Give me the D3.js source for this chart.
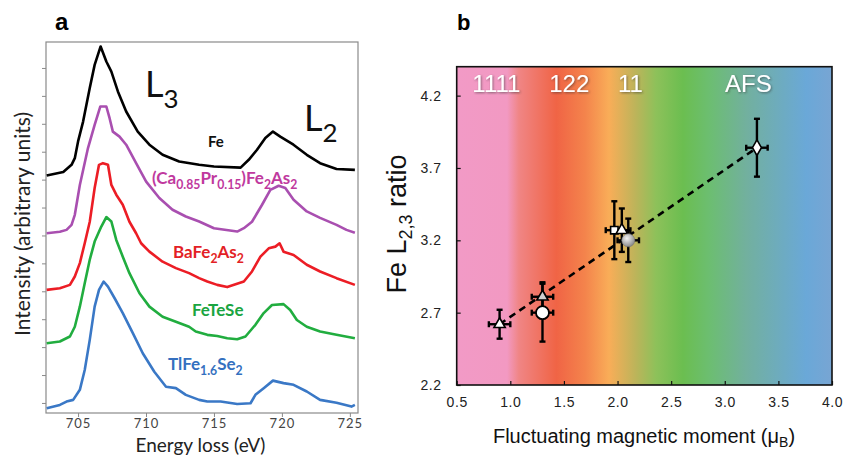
<!DOCTYPE html>
<html>
<head>
<meta charset="utf-8">
<script src="https://cdn.jsdelivr.net/npm/d3@7"></script>
<style>
body { margin: 0; background: #fff; }
</style>
</head>
<body>
<script>
// ---- panel a : Fe L2,3 edges (energy in eV, intensity in a.u. incl. vertical offset)
const feEnergy = [702.69,703.91,704.52,704.76,705.00,705.37,705.86,706.22,706.66,707.08,707.45,707.93,708.54,709.39,710.25,711.22,712.44,713.91,715.00,716.96,717.56,718.17,718.78,719.34,719.88,720.85,721.83,722.81,724.02,725.37]
const feInt    = [8.15,8.27,8.53,8.77,9.37,10.08,11.28,12.11,12.77,12.23,11.87,11.16,10.44,9.72,9.25,8.89,8.65,8.53,8.47,8.43,8.71,9.07,9.49,9.72,9.54,9.25,8.89,8.59,8.38,8.35]

const caprEnergy = [702.69,703.66,704.15,704.52,704.76,705.13,705.73,706.22,706.64,707.08,707.32,707.56,708.05,708.54,709.27,710.01,710.98,711.95,712.93,713.91,715.00,716.71,717.20,717.80,718.54,719.15,719.76,720.25,720.86,721.83,722.81,724.02,724.75,725.37]
const caprInt    = [6.08,6.13,6.20,6.38,6.74,7.81,9.13,9.96,10.62,10.62,10.20,9.72,9.54,9.25,8.59,7.93,7.34,6.92,6.68,6.50,6.26,6.14,6.26,6.49,7.10,7.63,7.78,7.70,7.28,6.86,6.63,6.38,6.20,6.10]

const bfaEnergy = [702.69,703.66,704.40,704.76,705.13,705.49,705.86,706.22,706.54,706.83,707.20,707.45,707.81,708.29,708.78,709.27,709.64,710.25,711.22,712.20,713.17,713.91,714.51,715.24,715.98,717.20,717.80,718.42,719.03,719.52,719.83,720.12,720.86,721.83,722.81,724.02,725.37]
const bfaInt    = [4.05,4.11,4.23,4.53,5.01,5.72,6.49,7.70,8.53,8.59,8.53,7.81,7.46,7.10,6.49,6.08,5.72,5.42,5.06,4.83,4.65,4.47,4.35,4.23,4.15,4.35,4.71,5.24,5.54,5.60,5.72,5.42,5.30,4.95,4.71,4.47,4.23]

const ftsEnergy = [702.69,703.66,704.40,704.76,705.13,705.49,705.86,706.22,706.71,707.08,707.45,707.81,708.29,708.78,709.52,710.25,711.22,712.20,713.17,713.66,714.51,715.24,715.98,716.71,717.32,718.05,718.66,719.27,720.12,720.61,721.10,721.83,722.81,724.02,725.37]
const ftsInt    = [2.14,2.20,2.38,2.73,3.45,4.29,5.13,5.78,6.32,6.66,6.50,5.84,5.24,4.65,3.93,3.45,3.09,2.91,2.73,2.56,2.44,2.40,2.32,2.28,2.38,2.80,3.22,3.51,3.54,3.33,2.97,2.73,2.56,2.44,2.32]

const tlfEnergy = [702.69,703.66,704.15,704.64,705.13,705.49,705.86,706.22,706.54,706.88,707.20,707.69,708.29,709.03,709.76,710.61,711.47,712.20,712.93,713.91,714.51,715.49,716.71,717.69,718.05,718.66,719.34,720.12,720.86,721.83,722.81,724.02,725.12,725.37]
const tlfInt    = [-0.19,-0.07,0.05,0.11,0.47,1.18,2.26,3.45,4.05,4.35,4.17,3.75,3.22,2.50,1.78,1.12,0.58,0.53,0.29,0.11,0.05,0.05,-0.04,-0.01,0.29,0.53,0.80,0.71,0.65,0.41,0.11,0.01,-0.13,-0.07]

const energyTicks = [705, 710, 715, 720, 725]
const intensityTicks = [0,1,2,3,4,5,6,7,8,9,10,11,12]

// ---- panel b : L2,3 ratio vs fluctuating moment
const moment      = [0.9, 1.3, 1.3, 1.97, 2.04, 2.1, 3.3]
const momentErr   = [0.1, 0.1, 0.1, 0.08, 0.08, 0.1, 0.1]
const ratio       = [2.62, 2.81, 2.70, 3.27, 3.27, 3.20, 3.84]
const ratioErr    = [0.1, 0.1, 0.2, 0.2, 0.15, 0.15, 0.2]
const markerKind  = ["triangle", "triangleGray", "circle", "square", "triangle", "sphere", "diamond"]
const fitMoment   = [0.9, 3.3]
const fitRatio    = [2.62, 3.84]
const familyNames = ["1111", "122", "11", "AFS"]
const familyAt    = [0.87, 1.55, 2.12, 3.22]
const momentTicks = [0.5, 1.0, 1.5, 2.0, 2.5, 3.0, 3.5, 4.0]
const ratioTicks  = [2.2, 2.7, 3.2, 3.7, 4.2]

const W = 844, H = 455
const svg = d3.select("body").append("svg")
    .attr("width", W)
    .attr("height", H)

const defs = svg.append("defs")

// ================= panel a =================
const xa = d3.scaleLinear().domain([702.64, 725.6]).range([46, 358])
const ya = d3.scaleLinear().domain([-0.36, 12.93]).range([413, 42])
const fontA = "Lato, 'Open Sans', sans-serif"

svg.append("text")
    .attr("x", 55).attr("y", 30)
    .attr("font-family", "'Liberation Sans', Arial, sans-serif")
    .attr("font-weight", "bold")
    .attr("font-size", 24)
    .text("a")

svg.append("rect")
    .attr("x", xa.range()[0]).attr("y", ya.range()[1])
    .attr("width", xa.range()[1] - xa.range()[0])
    .attr("height", ya.range()[0] - ya.range()[1])
    .attr("fill", "none")
    .attr("stroke", "#8a8a8a")
    .attr("stroke-width", 1.2)

const axA = svg.append("g")
    .attr("transform", "translate(0," + ya.range()[0] + ")")
    .call(d3.axisBottom(xa).tickValues(energyTicks).tickSize(4).tickPadding(2))
axA.select(".domain").remove()
axA.selectAll("line").attr("stroke", "#8a8a8a")
axA.selectAll("text")
    .attr("font-family", fontA).attr("font-size", 13)
    .attr("fill", "#444").attr("letter-spacing", 1)

const ayA = svg.append("g")
    .attr("transform", "translate(" + xa.range()[0] + ",0)")
    .call(d3.axisLeft(ya).tickValues(intensityTicks).tickSize(4).tickFormat(""))
ayA.select(".domain").remove()
ayA.selectAll("line").attr("stroke", "#8a8a8a")

svg.append("text")
    .attr("x", xa(714.0)).attr("y", 452)
    .attr("text-anchor", "middle")
    .attr("font-family", fontA).attr("font-size", 19)
    .attr("fill", "#222")
    .text("Energy loss (eV)")

svg.append("text")
    .attr("transform", "translate(30,224) rotate(-90)")
    .attr("text-anchor", "middle")
    .attr("font-family", fontA).attr("font-size", 21)
    .attr("fill", "#222")
    .text("Intensity (arbitrary units)")

const lineA = d3.line()
    .x(d => xa(d[0]))
    .y(d => ya(d[1]))

const spectra = [
    { e: tlfEnergy, v: tlfInt, c: "#3a78c6" },
    { e: ftsEnergy, v: ftsInt, c: "#21ad3f" },
    { e: bfaEnergy, v: bfaInt, c: "#ec1d25" },
    { e: caprEnergy, v: caprInt, c: "#a94fb0" },
    { e: feEnergy, v: feInt, c: "#000000" }
]
spectra.forEach(s => {
    svg.append("path")
        .datum(d3.zip(s.e, s.v))
        .attr("d", lineA)
        .attr("fill", "none")
        .attr("stroke", s.c)
        .attr("stroke-width", 2.6)
        .attr("stroke-linejoin", "round")
})

// rich labels with subscripts
function richText(x, y, parts, size, color, weight) {
    const t = svg.append("text")
        .attr("x", x).attr("y", y)
        .attr("font-family", fontA)
        .attr("font-size", size)
        .attr("font-weight", weight)
        .attr("fill", color)
    let down = 0
    parts.forEach(p => {
        const sub = Array.isArray(p)
        const shift = sub ? size * 0.3 : 0
        t.append("tspan")
            .attr("dy", shift - down)
            .attr("font-size", sub ? size * 0.72 : size)
            .text(sub ? p[0] : p)
        down = shift
    })
    return t
}

richText(145, 97, ["L", ["3"]], 36, "#111", 400)
richText(304, 131, ["L", ["2"]], 36, "#111", 400)
richText(208, 147, ["Fe"], 15, "#111", "bold")
richText(152, 184, ["(Ca", ["0.85"], "Pr", ["0.15"], ")Fe", ["2"], "As", ["2"]], 17, "#c0399e", "bold")
richText(173, 258, ["BaFe", ["2"], "As", ["2"]], 17, "#e31f26", "bold")
richText(192, 316, ["FeTeSe"], 17, "#1aa541", "bold")
richText(168, 370, ["TlFe", ["1.6"], "Se", ["2"]], 17, "#3470c0", "bold")

// ================= panel b =================
const xb = d3.scaleLinear().domain([0.5, 4.0]).range([456.7, 832])
const yb = d3.scaleLinear().domain([2.2, 4.4]).range([385, 66.7])
const fontB = "'Liberation Sans', Arial, sans-serif"

svg.append("text")
    .attr("x", 457).attr("y", 30)
    .attr("font-family", fontB)
    .attr("font-weight", "bold")
    .attr("font-size", 22)
    .text("b")

// background colour band along the moment axis
const bandStops = [
    [0.5, "#f29ac6"], [0.97, "#f299c2"], [1.08, "#f08585"], [1.43, "#f06445"],
    [1.7, "#f4844c"], [1.92, "#f9ad58"], [2.17, "#bcb45a"], [2.36, "#8dc15a"],
    [2.61, "#6bbe50"], [2.85, "#6cbe70"], [3.2, "#72b09e"], [3.76, "#6aa8d8"],
    [4.0, "#78a5d3"]
]
const grad = defs.append("linearGradient")
    .attr("id", "band")
    .attr("gradientUnits", "userSpaceOnUse")
    .attr("x1", xb(0.5)).attr("x2", xb(4.0))
    .attr("y1", 0).attr("y2", 0)
grad.selectAll("stop").data(bandStops).join("stop")
    .attr("offset", d => (xb(d[0]) - xb(0.5)) / (xb(4.0) - xb(0.5)))
    .attr("stop-color", d => d[1])

const sphere = defs.append("radialGradient")
    .attr("id", "sphere").attr("cx", "40%").attr("cy", "35%").attr("r", "65%")
sphere.append("stop").attr("offset", 0).attr("stop-color", "#f4f4f4")
sphere.append("stop").attr("offset", 1).attr("stop-color", "#8a8a8a")

const shadow = defs.append("filter").attr("id", "shadow")
    .attr("x", "-20%").attr("y", "-20%").attr("width", "140%").attr("height", "140%")
shadow.append("feDropShadow")
    .attr("dx", 1).attr("dy", 1).attr("stdDeviation", 0.8)
    .attr("flood-color", "#333").attr("flood-opacity", 0.55)

svg.append("rect")
    .attr("x", xb(0.5)).attr("y", yb(4.4))
    .attr("width", xb(4.0) - xb(0.5))
    .attr("height", yb(2.2) - yb(4.4))
    .attr("fill", "url(#band)")

const axB = svg.append("g")
    .attr("transform", "translate(0," + yb(2.2) + ")")
    .call(d3.axisBottom(xb).tickValues(momentTicks).tickSize(-4).tickPadding(12).tickFormat(d3.format(".1f")))
axB.select(".domain").remove()
axB.selectAll("line").attr("stroke", "#111").attr("stroke-width", 1.2)
axB.selectAll("text")
    .attr("font-family", fontB).attr("font-size", 14)
    .attr("fill", "#222").attr("letter-spacing", 0.6)

const ayB = svg.append("g")
    .attr("transform", "translate(" + xb(0.5) + ",0)")
    .call(d3.axisLeft(yb).tickValues(ratioTicks).tickSize(-4).tickPadding(15).tickFormat(d3.format(".1f")))
ayB.select(".domain").remove()
ayB.selectAll("line").attr("stroke", "#111").attr("stroke-width", 1.2)
ayB.selectAll("text")
    .attr("font-family", fontB).attr("font-size", 14)
    .attr("fill", "#222").attr("letter-spacing", 0.6)

svg.append("rect")
    .attr("x", xb(0.5)).attr("y", yb(4.4))
    .attr("width", xb(4.0) - xb(0.5))
    .attr("height", yb(2.2) - yb(4.4))
    .attr("fill", "none")
    .attr("stroke", "#111")
    .attr("stroke-width", 1.6)

// family labels across the top
svg.selectAll(".family").data(familyNames).join("text")
    .attr("class", "family")
    .attr("x", (d, i) => xb(familyAt[i]))
    .attr("y", 92)
    .attr("text-anchor", "middle")
    .attr("font-family", fontB)
    .attr("font-size", 24)
    .attr("fill", "#fff")
    .attr("filter", "url(#shadow)")
    .text(d => d)

// dashed fit
svg.append("path")
    .datum(d3.zip(fitMoment, fitRatio))
    .attr("d", d3.line().x(d => xb(d[0])).y(d => yb(d[1])))
    .attr("fill", "none")
    .attr("stroke", "#000")
    .attr("stroke-width", 2.6)
    .attr("stroke-dasharray", "7,5")

// error bars
const pts = moment.map((m, i) => ({ m: m, r: ratio[i], dm: momentErr[i], dr: ratioErr[i], k: markerKind[i] }))
const eb = svg.append("g").attr("stroke", "#000").attr("stroke-width", 2.4)
pts.forEach(p => {
    const cx = xb(p.m), cy = yb(p.r)
    const x0 = xb(p.m - p.dm), x1 = xb(p.m + p.dm)
    const y0 = yb(p.r - p.dr), y1 = yb(p.r + p.dr)
    eb.append("line").attr("x1", x0).attr("x2", x1).attr("y1", cy).attr("y2", cy)
    eb.append("line").attr("x1", cx).attr("x2", cx).attr("y1", y0).attr("y2", y1)
    eb.append("line").attr("x1", x0).attr("x2", x0).attr("y1", cy - 3).attr("y2", cy + 3)
    eb.append("line").attr("x1", x1).attr("x2", x1).attr("y1", cy - 3).attr("y2", cy + 3)
    eb.append("line").attr("x1", cx - 3).attr("x2", cx + 3).attr("y1", y0).attr("y2", y0)
    eb.append("line").attr("x1", cx - 3).attr("x2", cx + 3).attr("y1", y1).attr("y2", y1)
})

// markers
pts.forEach(p => {
    const g = svg.append("g").attr("transform", "translate(" + xb(p.m) + "," + yb(p.r) + ")")
    if (p.k === "circle") {
        g.append("circle").attr("r", 6.5).attr("fill", "#fff").attr("stroke", "#000").attr("stroke-width", 1.8)
    } else if (p.k === "sphere") {
        g.append("circle").attr("r", 6.5).attr("fill", "url(#sphere)").attr("stroke", "#777").attr("stroke-width", 0.6)
    } else {
        const type = p.k === "square" ? d3.symbolSquare : p.k === "diamond" ? d3.symbolDiamond : d3.symbolTriangle
        const size = p.k === "diamond" ? 70 : 55
        g.append("path")
            .attr("d", d3.symbol().type(type).size(size))
            .attr("fill", p.k === "triangleGray" ? "#cfcfcf" : "#fff")
            .attr("stroke", "#000")
            .attr("stroke-width", 1.6)
    }
})

svg.append("text")
    .attr("x", 644).attr("y", 443)
    .attr("text-anchor", "middle")
    .attr("font-family", fontB).attr("font-size", 20)
    .attr("fill", "#111")
    .call(t => {
        t.append("tspan").text("Fluctuating magnetic moment (\u03bc")
        t.append("tspan").attr("font-size", 14).attr("dy", 4).text("B")
        t.append("tspan").attr("dy", -4).text(")")
    })

svg.append("text")
    .attr("transform", "translate(406,224) rotate(-90)")
    .attr("text-anchor", "middle")
    .attr("font-family", fontB).attr("font-size", 27)
    .attr("fill", "#111")
    .call(t => {
        t.append("tspan").text("Fe L")
        t.append("tspan").attr("font-size", 18).attr("dy", 6).text("2,3")
        t.append("tspan").attr("dy", -6).text(" ratio")
    })
</script>
</body>
</html>
